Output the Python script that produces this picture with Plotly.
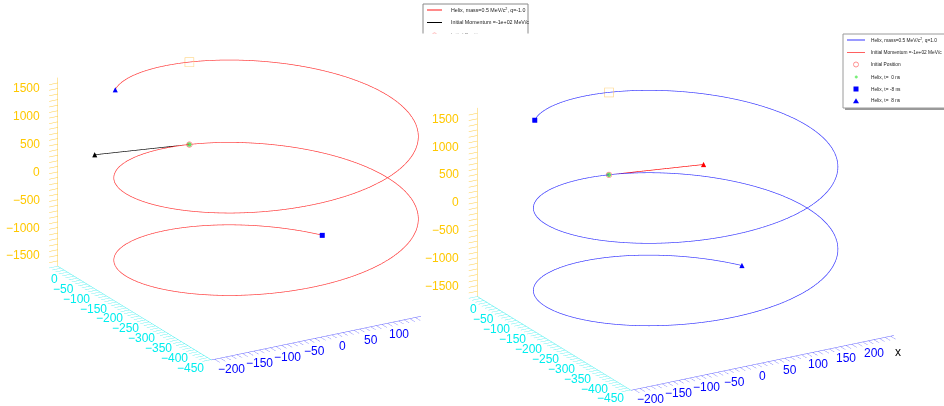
import numpy as np
import plotly.graph_objects as go

W, H = 944, 406

# ---- track parameters -------------------------------------------------------
C_MM_PER_NS = 299.792458
MASS = 0.5                          # MeV/c^2
B_FIELD = 1.0                       # tesla, along +z
CHARGES = [-1.0, 1.0]
P_INIT = [[-70.71, 0.0, 70.71],     # MeV/c, left panel
          [70.71, 0.0, -70.71]]     # MeV/c, right panel
T_START, T_STOP = -8.0, 8.0         # ns
T_MARKS = [0.0, -8.0, 8.0]          # ns
P_DRAW_SCALE = 2.4                  # mm of arrow per MeV/c

HELIX_LABELS = ["Helix, mass=0.5 MeV/c<sup>2</sup>, q=-1.0",
                "Helix, mass=0.5 MeV/c<sup>2</sup>, q=1.0"]
MOMENTUM_LABEL = "Initial Momentum =-1e+02 MeV/c"
POSITION_LABEL = "Initial Position"
MARK_LABELS = ["Helix, t=\u00a0\u00a00 ns", "Helix, t=\u00a0-8 ns",
               "Helix, t=\u00a0\u00a08 ns"]

X_MINOR, X_MAJOR = 10, 50
Y_MINOR, Y_MAJOR = 10, 50
Z_MINOR, Z_MAJOR = 100, 500
LEFT_X_LABEL_MAX = 100              # labels further right fall outside the left panel

HELIX_COLORS = ["#ff3030", "#3030ff"]
MOMENTUM_COLORS = ["#000000", "#ff0000"]

X_LABEL_COLOR, X_LINE_COLOR = "#0000ff", "#6060ff"
Y_LABEL_COLOR, Y_LINE_COLOR = "#00eeee", "#30eeee"
Z_LABEL_COLOR, Z_LINE_COLOR = "#ffc800", "#ffcc40"
FONT = "Liberation Sans, Arial, sans-serif"

# ---- view ---------------------------------------------------------------------
VIEW_AZIM = 239.7
VIEW_ELEV = 20.9
ZOOM = 1.5
ASPECT = dict(x=1.0 * ZOOM, y=1.0 * ZOOM, z=0.663 * ZOOM)
EYE_DIST = 2.5
PX_PER_UNIT = 201.0                 # screen px per normalised scene unit
PANEL_X = [(0, 421), (421, W)]
BOX_CENTER_PX = [(265.5, 191.5), (685.6, 221.5)]


def track(q, p):
    p = np.asarray(p, float)
    energy = np.sqrt(p @ p + MASS ** 2)
    pt = np.hypot(p[0], p[1])
    radius = pt / (0.299792458 * abs(q) * B_FIELD)
    v_t = C_MM_PER_NS * pt / energy
    v_z = C_MM_PER_NS * p[2] / energy
    omega = -np.sign(q) * v_t / radius
    ux, uy = p[0] / pt, p[1] / pt
    nx, ny = (-uy, ux) if omega > 0 else (uy, -ux)
    cx, cy = radius * nx, radius * ny
    phi0 = np.arctan2(-ny, -nx)

    def at(t):
        t = np.asarray(t, float)
        ang = phi0 + omega * t
        return cx + radius * np.cos(ang), cy + radius * np.sin(ang), v_z * t

    return at, omega, v_z


def fmt(v):
    iv = int(round(v))
    return ("\u2212" + str(-iv)) if iv < 0 else str(iv)


def tick_values(lo, hi, step):
    return list(np.arange(np.ceil(lo / step) * step, hi + 1e-9, step))


def camera(panel):
    az, el = np.radians(VIEW_AZIM), np.radians(VIEW_ELEV)
    d = np.array([np.cos(el) * np.cos(az), np.cos(el) * np.sin(az), np.sin(el)])
    r = np.array([-np.sin(az), np.cos(az), 0.0])
    u = np.array([-np.sin(el) * np.cos(az), -np.sin(el) * np.sin(az), np.cos(el)])
    x0, x1 = PANEL_X[panel]
    sx = BOX_CENTER_PX[panel][0] - (x0 + x1) / 2
    sy = BOX_CENTER_PX[panel][1] - H / 2
    c = (-sx / PX_PER_UNIT) * r + (sy / PX_PER_UNIT) * u
    e = c + d * EYE_DIST
    return dict(eye=dict(x=e[0], y=e[1], z=e[2]),
                center=dict(x=c[0], y=c[1], z=c[2]),
                up=dict(x=0, y=0, z=1),
                projection=dict(type="orthographic"))


def axis(rng, step, line, ticks):
    return dict(range=rng, autorange=False, tickmode="array",
                tickvals=tick_values(rng[0], rng[1], step),
                showticklabels=False,
                showline=True, linecolor=line, linewidth=1,
                ticks=ticks, ticklen=10, tickcolor=line, tickwidth=1,
                showgrid=False, zeroline=False, showbackground=False,
                showspikes=False, title=dict(text=""))


def label(x, y, z, text, color, xanchor, xshift, yshift):
    return dict(x=x, y=y, z=z, text=text, showarrow=False,
                xanchor=xanchor, yanchor="middle", xshift=xshift, yshift=yshift,
                font=dict(family=FONT, size=12, color=color))


fig = go.Figure()
t_line = np.linspace(T_START, T_STOP, 1201)

for k, (q, p0) in enumerate(zip(CHARGES, P_INIT)):
    scene = "scene" if k == 0 else "scene2"
    at, omega, v_z = track(q, p0)
    hx, hy, hz = at(t_line)

    fig.add_trace(go.Scatter3d(x=hx, y=hy, z=hz, mode="lines", scene=scene,
                               line=dict(color=HELIX_COLORS[k], width=1.3),
                               showlegend=False, hoverinfo="skip"))

    # point reached after one full turn towards +z
    t_turn = np.sign(v_z) * 2 * np.pi / abs(omega)
    tx, ty, tz = at([t_turn])
    fig.add_trace(go.Scatter3d(x=tx, y=ty, z=tz, mode="markers", scene=scene,
                               marker=dict(symbol="square-open", size=4,
                                           color="#ffd480"),
                               showlegend=False, hoverinfo="skip"))

    # initial momentum
    tip = np.asarray(p0) * P_DRAW_SCALE
    fig.add_trace(go.Scatter3d(x=[0, tip[0]], y=[0, tip[1]], z=[0, tip[2]],
                               mode="lines", scene=scene,
                               line=dict(color=MOMENTUM_COLORS[k], width=1.3),
                               showlegend=False, hoverinfo="skip"))
    fig.add_trace(go.Scatter3d(x=[tip[0]], y=[tip[1]], z=[tip[2]], mode="text",
                               text=["\u25b2"], textposition="middle center",
                               textfont=dict(size=9, color=MOMENTUM_COLORS[k]),
                               scene=scene, showlegend=False, hoverinfo="skip"))

    # initial position and time marks
    fig.add_trace(go.Scatter3d(x=[0], y=[0], z=[0], mode="markers", scene=scene,
                               marker=dict(symbol="circle-open", size=3.5,
                                           color="#ff8080"),
                               showlegend=False, hoverinfo="skip"))
    mx, my, mz = at(T_MARKS)
    fig.add_trace(go.Scatter3d(x=mx[:1], y=my[:1], z=mz[:1], mode="markers",
                               scene=scene,
                               marker=dict(symbol="circle", size=2.6, color="#66dd66"),
                               showlegend=False, hoverinfo="skip"))
    fig.add_trace(go.Scatter3d(x=mx[1:2], y=my[1:2], z=mz[1:2], mode="markers",
                               scene=scene,
                               marker=dict(symbol="square", size=2.6, color="#0000ff"),
                               showlegend=False, hoverinfo="skip"))
    fig.add_trace(go.Scatter3d(x=mx[2:], y=my[2:], z=mz[2:], mode="text",
                               text=["\u25b2"], textposition="middle center",
                               textfont=dict(size=9, color="#0000ff"),
                               scene=scene, showlegend=False, hoverinfo="skip"))

    xr = [float(hx.min()), float(hx.max())]
    yr = [float(hy.min()), float(hy.max())]
    zr = [float(hz.min()), float(hz.max())]

    # horizontal tick labels anchored to the axis edges
    labels = []
    for v in tick_values(xr[0], xr[1], X_MAJOR):
        if k == 0 and v > LEFT_X_LABEL_MAX:
            continue
        labels.append(label(v, yr[0], zr[0], fmt(v), X_LABEL_COLOR, "center", 0, -13))
    for v in tick_values(yr[0], yr[1], Y_MAJOR):
        labels.append(label(xr[0], v, zr[0], fmt(v), Y_LABEL_COLOR, "right", 2, -12.5))
    for v in tick_values(zr[0], zr[1], Z_MAJOR):
        labels.append(label(xr[0], yr[1], v, fmt(v), Z_LABEL_COLOR, "right", -16, 0))
    if k == 1:
        labels.append(dict(x=xr[1], y=yr[0], z=zr[0], text="x", showarrow=False,
                           xshift=4, yshift=-17,
                           font=dict(family=FONT, size=12, color="#000")))

    x0, x1 = PANEL_X[k]
    sc = dict(
        domain=dict(x=[x0 / W, x1 / W], y=[0, 1]),
        xaxis=axis(xr, X_MINOR, X_LINE_COLOR, "inside"),
        yaxis=axis(yr, Y_MINOR, Y_LINE_COLOR, "outside"),
        zaxis=axis(zr, Z_MINOR, Z_LINE_COLOR, "outside"),
        aspectmode="manual", aspectratio=ASPECT,
        camera=camera(k), bgcolor="rgba(0,0,0,0)", dragmode=False,
        annotations=labels,
    )
    fig.update_layout({scene: sc})

# ---- legends (pixel layout) ---------------------------------------------------
def px(x):
    return x / W


def py(y):
    return 1 - y / H


shapes = []
annotations = []


def leg_text(x, y, text, size):
    annotations.append(dict(x=px(x), y=py(y), xref="paper", yref="paper",
                            text=text, showarrow=False, xanchor="left",
                            yanchor="middle",
                            font=dict(family=FONT, size=size, color="#222")))


# left legend: only the top part is visible above the right panel
shapes.append(dict(type="path", xref="paper", yref="paper",
                   path=f"M {px(423)},{py(40)} L {px(423)},{py(4)} "
                        f"L {px(528)},{py(4)} L {px(528)},{py(40)}",
                   line=dict(color="#8a8a8a", width=1)))
shapes.append(dict(type="line", xref="paper", yref="paper", x0=px(427), x1=px(442),
                   y0=py(10), y1=py(10), line=dict(color="#ff8a8a", width=2)))
shapes.append(dict(type="line", xref="paper", yref="paper", x0=px(427), x1=px(442),
                   y0=py(22.5), y1=py(22.5), line=dict(color="#000", width=1)))
shapes.append(dict(type="circle", xref="paper", yref="paper", x0=px(432), x1=px(437),
                   y0=py(33), y1=py(38), line=dict(color="#ff9090", width=1)))
leg_text(449, 10, HELIX_LABELS[0], 5.3)
leg_text(449, 22.5, MOMENTUM_LABEL, 5.3)
leg_text(449, 35.5, POSITION_LABEL, 5.3)
annotations.append(dict(x=px(421), y=py(33), xref="paper", yref="paper", text="",
                        showarrow=False, xanchor="left", yanchor="top",
                        width=130, height=14, bgcolor="#ffffff"))

# right legend
shapes.append(dict(type="rect", xref="paper", yref="paper", x0=px(845), x1=px(970),
                   y0=py(36), y1=py(110), fillcolor="#9a9a9a", line=dict(width=0)))
shapes.append(dict(type="rect", xref="paper", yref="paper", x0=px(843), x1=px(968),
                   y0=py(34), y1=py(108), fillcolor="#ffffff",
                   line=dict(color="#9a9a9a", width=1)))
rows = [40, 52.5, 64.5, 77, 89, 101]
shapes.append(dict(type="line", xref="paper", yref="paper", x0=px(847), x1=px(865),
                   y0=py(rows[0]), y1=py(rows[0]), line=dict(color="#9a9aff", width=2)))
shapes.append(dict(type="line", xref="paper", yref="paper", x0=px(847), x1=px(865),
                   y0=py(rows[1]), y1=py(rows[1]), line=dict(color="#ff6060", width=1)))
shapes.append(dict(type="circle", xref="paper", yref="paper", x0=px(853.5), x1=px(858.5),
                   y0=py(rows[2] - 2.5), y1=py(rows[2] + 2.5),
                   line=dict(color="#ff9090", width=1)))
shapes.append(dict(type="circle", xref="paper", yref="paper", x0=px(855), x1=px(857.5),
                   y0=py(rows[3] - 1.2), y1=py(rows[3] + 1.2), fillcolor="#77ee77",
                   line=dict(color="#77ee77", width=0.5)))
shapes.append(dict(type="rect", xref="paper", yref="paper", x0=px(853.5), x1=px(858.5),
                   y0=py(rows[4] - 2.5), y1=py(rows[4] + 2.5), fillcolor="#0000ff",
                   line=dict(width=0)))
shapes.append(dict(type="path", xref="paper", yref="paper",
                   path=f"M {px(853)},{py(rows[5] + 2.3)} L {px(859)},{py(rows[5] + 2.3)} "
                        f"L {px(856)},{py(rows[5] - 2.7)} Z",
                   fillcolor="#0000ff", line=dict(width=0)))
right_texts = [HELIX_LABELS[1], MOMENTUM_LABEL, POSITION_LABEL] + MARK_LABELS
for y, text in zip(rows, right_texts):
    leg_text(869, y, text, 4.8)

fig.update_layout(width=W, height=H, margin=dict(l=0, r=0, t=0, b=0),
                  paper_bgcolor="#ffffff", plot_bgcolor="#ffffff",
                  showlegend=False, shapes=shapes, annotations=annotations,
                  font=dict(family=FONT))

fig.write_html("out.html", config={"displayModeBar": False})
